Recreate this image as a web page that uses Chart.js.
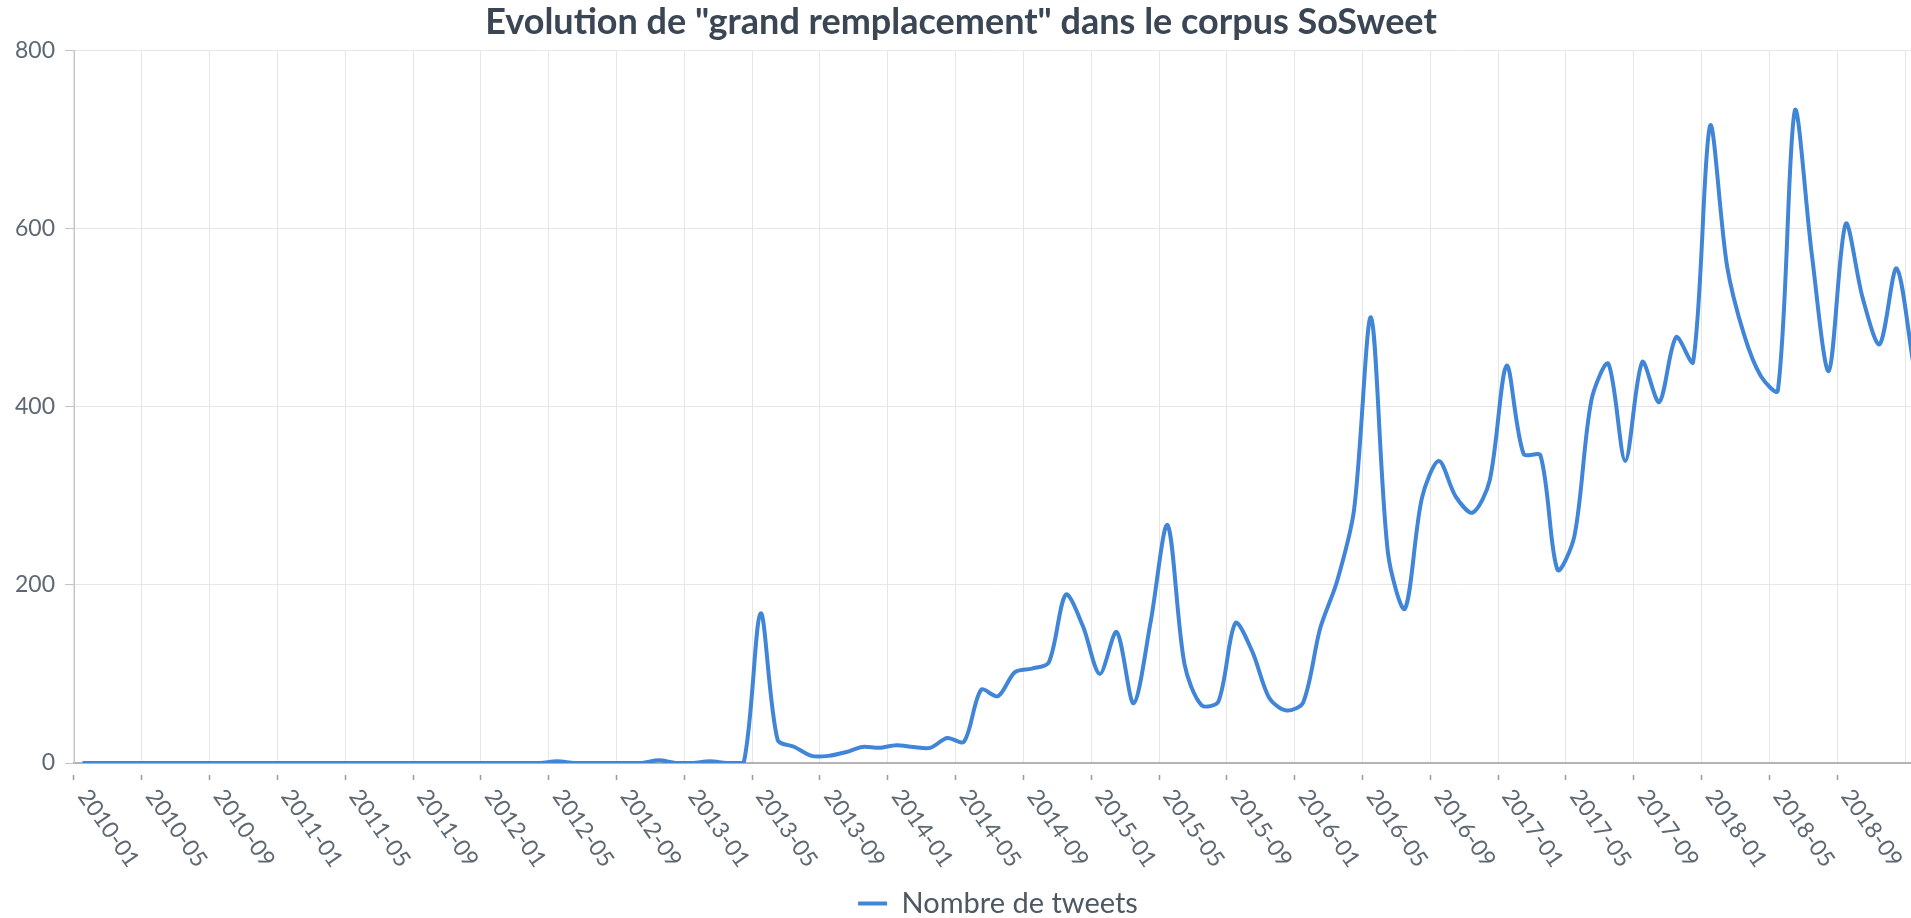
<!DOCTYPE html>
<html>
<head>
<meta charset="utf-8">
<title>Evolution de "grand remplacement" dans le corpus SoSweet</title>
<script src="https://cdn.jsdelivr.net/npm/chart.js@4.4.1/dist/chart.umd.min.js"></script>
<style>
    html, body { margin: 0; padding: 0; overflow: hidden; background: #ffffff; }
</style>
</head>
<body>
<canvas id="mycanvas" width="1922" height="928"></canvas>
<script>
// one point per month, 2010-01 .. 2019-01
var months = [];
for (var y = 2010; y <= 2019; y++) {
    for (var m = 1; m <= 12; m++) {
        if (y === 2019 && m > 1) break;
        months.push(y + "-" + (m < 10 ? "0" + m : m));
    }
}

var tickLabels = [
    "2010-01", "2010-05", "2010-09", "2011-01", "2011-05", "2011-09",
    "2012-01", "2012-05", "2012-09", "2013-01", "2013-05", "2013-09",
    "2014-01", "2014-05", "2014-09", "2015-01", "2015-05", "2015-09",
    "2016-01", "2016-05", "2016-09", "2017-01", "2017-05", "2017-09",
    "2018-01", "2018-05", "2018-09"
];

var yTicks = [0, 200, 400, 600, 800];

// nombre de tweets par mois
var tweets = [
    0, 0, 0, 0, 0, 0, 0, 0, 0, 0, 0, 0,            // 2010
    0, 0, 0, 0, 0, 0, 0, 0, 0, 0, 0, 0,            // 2011
    0, 0, 0, 0, 2, 0, 0, 0, 0, 0, 3, 0,            // 2012
    0, 2, 0, 0, 168, 26, 18, 8, 8, 12, 18, 17,     // 2013
    20, 18, 17, 28, 24, 82, 75, 102, 106, 113, 189, 154,   // 2014
    100, 147, 67, 158, 267, 111, 65, 69, 157, 125, 73, 59, // 2015
    68, 151, 204, 284, 500, 236, 173, 297, 339, 299, 281, 317, // 2016
    446, 347, 345, 217, 255, 407, 448, 339, 450, 405, 478, 450, // 2017
    715, 558, 481, 434, 418, 732, 571, 440, 605, 522, 470, 555, // 2018
    447                                            // 2019
];

var lineColor = "#4185d9";
var textColor = "#5d6873";

// rotated month labels under the axis, starting at each tick
var monthLabels = {
    id: "monthLabels",
    afterDraw: function (chart) {
        var xs = chart.scales.x;
        var ctx = chart.ctx;
        var half = (xs.getPixelForValue(1) - xs.getPixelForValue(0)) / 2;
        ctx.save();
        ctx.font = "23px Lato";
        ctx.fillStyle = textColor;
        ctx.textAlign = "left";
        ctx.textBaseline = "middle";
        for (var i = 0; i < tickLabels.length; i++) {
            var idx = months.indexOf(tickLabels[i]);
            var x = xs.getPixelForValue(idx) - half;
            ctx.save();
            ctx.translate(x + 9, xs.top + 29);
            ctx.rotate(55 * Math.PI / 180);
            ctx.fillText(tickLabels[i], 0, 0);
            ctx.restore();
        }
        ctx.restore();
    }
};

var chartdata = {
    labels: months,
    datasets: [
        {
            label: "Nombre de tweets",
            data: tweets,
            fill: false,
            tension: 0.3,
            borderColor: lineColor,
            backgroundColor: lineColor,
            borderWidth: 4,
            pointRadius: 0,
            pointHoverRadius: 0
        }
    ]
};

var ctx = document.getElementById("mycanvas");

var lineGraph = new Chart(ctx, {
    type: "line",
    data: chartdata,
    plugins: [monthLabels],
    options: {
        responsive: false,
        animation: false,
        layout: { padding: 0 },
        plugins: {
            title: {
                display: true,
                text: 'Evolution de "grand remplacement" dans le corpus SoSweet',
                color: "#3a4654",
                font: { family: "Lato", size: 36, weight: "bold" },
                padding: { top: 1, bottom: 6 }
            },
            legend: {
                position: "bottom",
                fullSize: false,
                labels: {
                    color: "#4d5862",
                    font: { family: "Lato", size: 29 },
                    usePointStyle: true,
                    pointStyle: "line",
                    pointStyleWidth: 29,
                    padding: 10
                }
            },
            tooltip: { enabled: false }
        },
        scales: {
            x: {
                offset: true,
                grid: {
                    offset: true,
                    color: function (c) {
                        return c.index % 4 === 0 ? "#e6e6e6" : "rgba(0,0,0,0)";
                    },
                    tickColor: function (c) {
                        return tickLabels.indexOf(months[c.index]) >= 0 ? "#9a9a9a" : "rgba(0,0,0,0)";
                    },
                    tickLength: 17,
                    tickWidth: 1.5,
                    tickBorderDash: [0, 11, 6, 40]
                },
                border: { color: "#b4b4b4", width: 2 },
                ticks: { display: false },
                afterFit: function (scale) {
                    scale.height = 116;
                }
            },
            y: {
                min: 0,
                max: 800,
                grid: {
                    color: "#e6e6e6",
                    tickColor: "#c4c4c4",
                    tickLength: 9
                },
                border: { color: "#c4c4c4", width: 1 },
                ticks: {
                    stepSize: 200,
                    padding: 10,
                    color: textColor,
                    font: { family: "Lato", size: 23 },
                    callback: function (v) {
                        return yTicks.indexOf(v) >= 0 ? v : "";
                    }
                },
                afterFit: function (scale) {
                    scale.width = 74;
                }
            }
        }
    }
});
</script>
</body>
</html>
